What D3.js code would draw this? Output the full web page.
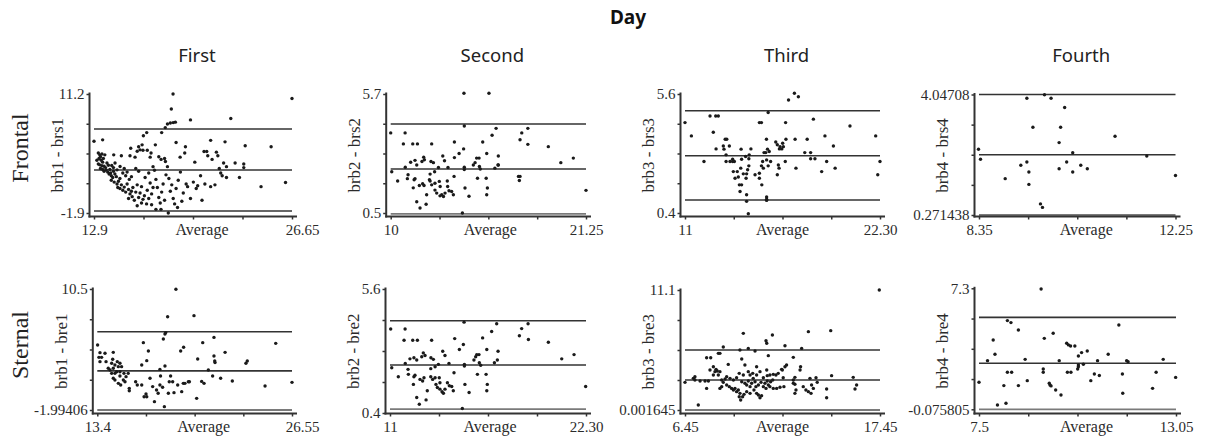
<!DOCTYPE html>
<html>
<head>
<meta charset="utf-8">
<script src="https://cdn.jsdelivr.net/npm/d3@7"></script>
<style>
  body { margin: 0; background: #fff; }
  svg { display: block; }
</style>
</head>
<body>
<svg id="chart" width="1206" height="436"></svg>
<script>
// Column / row names
const dayNames = ['First', 'Second', 'Third', 'Fourth'];
const siteNames = ['Frontal', 'Sternal'];

const frontalYTitles = ['brb1 - brs1', 'brb2 - brs2', 'brb3 - brs3', 'brb4 - brs4'];
const sternalYTitles = ['brb1 - bre1', 'brb2 - bre2', 'brb3 - bre3', 'brb4 - bre4'];

// Axis domains (Average on x, difference on y)
const frontalXDomains = [[12.9, 26.65], [10, 21.25], [11, 22.3], [8.35, 12.25]];
const sternalXDomains = [[13.4, 26.55], [11, 22.3], [6.45, 17.45], [7.5, 13.05]];
const frontalYDomains = [[-1.9, 11.2], [0.5, 5.7], [0.4, 5.6], [0.271438, 4.04708]];
const sternalYDomains = [[-1.99406, 10.5], [0.4, 5.6], [0.001645, 11.1], [-0.075805, 7.3]];

// End tick labels as printed
const frontalXTickLabels = [['12.9', '26.65'], ['10', '21.25'], ['11', '22.30'], ['8.35', '12.25']];
const sternalXTickLabels = [['13.4', '26.55'], ['11', '22.30'], ['6.45', '17.45'], ['7.5', '13.05']];
const frontalYTickLabels = [['-1.9', '11.2'], ['0.5', '5.7'], ['0.4', '5.6'], ['0.271438', '4.04708']];
const sternalYTickLabels = [['-1.99406', '10.5'], ['0.4', '5.6'], ['0.001645', '11.1'], ['-0.075805', '7.3']];

// Limits of agreement: [lower, mean, upper]
const frontalLimits = [[-1.68, 2.83, 7.35], [0.46, 2.42, 4.39], [0.97, 2.90, 4.87], [0.271438, 2.15926, 4.04708]];
const sternalLimits = [[-1.99406, 2.05, 6.09], [0.56, 2.41, 4.27], [0.001645, 2.78, 5.55], [-0.075805, 2.73, 5.53]];

// Points: [average, difference]
const frontalFirst = [
  [12.9,6.0],[13.5,6.15],[13.2,4.7],[13.3,4.5],[13.35,4.3],[13.25,4.1],[13.4,3.9],[13.5,3.7],[13.2,3.5],[13.3,3.4],
  [13.45,3.3],[13.6,3.25],[13.7,3.1],[13.8,3.6],[13.9,3.35],[13.1,3.9],[13.55,4.1],[13.65,4.5],[13.45,4.6],[13.35,3.0],
  [13.5,2.9],[13.6,2.7],[13.75,2.85],[13.85,2.6],[13.95,2.4],[14.05,2.5],[14.1,2.2],[14.2,2.0],[14.0,2.9],[14.25,2.7],
  [14.35,2.4],[14.45,2.1],[14.1,1.7],[14.3,1.5],[14.5,1.3],[14.6,1.6],[14.7,1.9],[14.8,1.2],[14.55,0.9],[14.7,0.8],
  [14.9,0.6],[15.0,0.95],[15.1,0.4],[15.3,0.7],[15.4,0.2],[15.55,-0.1],[15.5,0.5],[15.7,-0.5],[14.27,4.5],[14.8,4.4],
  [14.36,3.6],[14.13,3.33],[14.25,3.1],[14.71,3.22],[14.5,2.85],[14.9,2.5],[15.0,3.0],[15.2,2.6],[15.1,2.2],[15.35,1.8],
  [15.5,2.1],[15.45,5.23],[15.4,4.4],[15.75,4.25],[15.9,4.9],[16.0,5.4],[16.1,5.05],[16.24,5.6],[16.3,5.0],[16.33,6.6],
  [16.56,6.95],[16.6,5.0],[16.86,4.7],[16.8,4.25],[17.16,5.6],[15.8,3.0],[16.0,2.7],[15.9,1.2],[16.2,1.0],[16.1,0.3],
  [16.4,0.0],[16.3,-0.4],[16.55,-0.9],[16.6,0.6],[16.8,1.4],[16.9,0.2],[16.7,2.5],[16.45,2.0],[17.0,3.2],[17.1,2.8],
  [17.2,1.8],[17.3,0.9],[17.4,-0.2],[17.2,-1.5],[17.55,-1.5],[17.6,0.4],[17.7,1.3],[17.4,4.3],[17.56,4.0],[17.8,4.1],
  [17.86,3.77],[18.0,3.2],[17.6,6.95],[17.85,7.5],[18.0,7.9],[18.2,8.0],[18.4,8.05],[18.55,8.1],[18.27,9.55],[18.39,11.2],
  [18.6,5.86],[19.25,5.4],[19.2,4.7],[18.88,4.25],[17.9,2.3],[18.1,1.9],[18.3,1.2],[18.2,0.5],[18.4,-0.3],[18.5,-0.9],
  [18.6,0.8],[18.75,1.7],[18.9,2.6],[18.06,-1.9],[18.7,-1.3],[19.0,-0.6],[19.1,0.3],[19.3,1.3],[19.4,1.0],[19.6,-0.3],
  [19.9,3.7],[19.8,1.5],[20.0,0.8],[20.1,1.1],[20.3,2.2],[20.54,4.87],[20.73,4.87],[20.8,4.4],[20.4,-0.5],[20.6,1.3],
  [21.0,6.1],[21.1,4.0],[21.4,4.8],[21.5,4.4],[21.3,1.2],[21.0,1.0],[21.7,2.5],[21.8,2.2],[21.6,3.0],[22.0,5.93],
  [22.1,3.2],[22.4,8.5],[22.1,2.0],[23.0,2.0],[23.3,3.5],[23.3,3.1],[23.4,5.5],[22.7,3.6],[21.9,3.6],[24.5,1.0],
  [25.2,5.4],[26.2,1.45],[26.65,10.7],[19.6,8.35],[15.2,1.3],[15.6,0.9],[15.8,0.4],[16.0,-0.2],[16.2,-0.8],[16.7,-0.3],
  [16.9,-1.0],[17.0,0.9],[17.5,-0.8],[17.8,-0.5],[15.3,-0.3],[15.9,-1.1]
];

const frontalSecond = [
  [14.22,5.73],[15.66,5.73],[10.0,4.0],[10.83,4.0],[14.24,4.3],[16.07,4.2],[15.84,3.9],[17.55,4.0],[17.9,4.2],[17.45,3.7],
  [17.9,3.5],[19.08,3.4],[10.73,3.52],[11.27,3.52],[11.54,3.52],[12.36,3.52],[13.67,3.6],[15.3,3.6],[14.2,3.3],[13.94,3.1],
  [15.53,3.1],[16.2,2.99],[16.18,2.6],[10.06,2.3],[10.4,1.9],[10.84,2.5],[11.0,2.17],[10.96,2.0],[11.15,2.72],[11.4,2.8],
  [11.5,2.6],[11.4,2.0],[11.35,1.95],[11.3,1.6],[11.8,2.75],[11.9,2.94],[11.94,2.83],[12.32,2.75],[12.46,2.7],[12.27,2.2],
  [12.27,1.9],[12.36,1.73],[12.55,1.8],[12.53,2.3],[12.75,2.49],[12.8,1.88],[12.85,1.66],[13.0,2.99],[13.1,2.78],[13.3,2.49],
  [11.84,1.78],[11.92,1.7],[12.07,1.3],[11.65,1.7],[11.5,0.99],[11.69,0.72],[12.04,0.88],[12.23,1.95],[12.55,1.5],[12.65,1.37],
  [12.94,1.3],[13.04,1.22],[13.13,1.37],[12.84,1.25],[13.28,1.66],[13.36,1.47],[13.51,1.44],[13.61,1.3],[13.26,1.9],[13.65,2.1],
  [13.67,2.92],[14.24,2.5],[14.24,2.4],[14.28,1.59],[14.51,1.23],[14.13,0.5],[14.76,2.6],[14.86,2.7],[14.95,2.9],[15.09,2.9],
  [15.11,2.53],[15.16,2.42],[15.0,2.02],[15.5,2.02],[15.57,1.59],[15.53,1.3],[16.0,2.46],[16.2,2.6],[17.36,2.1],[17.45,2.1],
  [17.41,1.92],[19.8,2.7],[20.52,2.9],[21.25,1.49]
];

const frontalThird = [
  [11.0,4.35],[11.37,3.77],[12.45,4.64],[12.78,4.64],[12.93,4.64],[12.64,3.93],[12.8,3.2],[12.1,2.65],[13.33,3.62],[13.42,3.62],
  [13.22,3.33],[13.26,3.19],[13.57,3.33],[13.38,2.94],[13.38,2.65],[13.61,2.65],[13.76,2.65],[13.86,2.65],[13.76,2.75],[13.8,2.21],
  [13.9,1.92],[14.03,2.21],[14.09,1.97],[14.15,1.63],[14.28,1.63],[14.19,1.34],[14.23,2.36],[14.28,2.75],[14.25,3.19],[14.38,2.11],
  [14.54,1.92],[14.57,1.2],[14.57,0.91],[14.67,0.37],[14.51,2.87],[14.72,2.94],[14.82,3.2],[14.7,2.77],[14.7,2.46],[14.63,2.29],
  [14.57,2.11],[15.06,2.07],[15.31,1.92],[15.45,1.63],[15.31,2.14],[15.43,2.46],[15.5,2.65],[15.54,2.36],[15.31,4.35],[15.43,4.35],
  [15.58,3.04],[15.68,3.04],[15.72,3.62],[15.82,4.79],[15.73,1.1],[15.73,1.0],[15.73,0.95],[15.78,3.19],[15.88,3.09],[15.96,2.65],
  [15.82,2.46],[15.73,2.72],[16.26,3.5],[16.35,3.38],[16.47,3.2],[16.61,3.2],[16.7,3.3],[16.66,3.45],[16.85,3.62],[16.51,3.3],
  [16.41,2.5],[16.45,2.36],[16.35,2.07],[16.83,4.35],[16.81,2.65],[17.0,5.34],[17.34,5.63],[17.57,5.48],[17.38,3.62],[17.43,2.36],
  [17.94,3.04],[18.08,3.62],[18.28,3.04],[18.28,2.77],[18.53,2.77],[18.44,4.5],[18.92,2.21],[19.11,3.77],[19.21,2.65],[19.6,3.33],
  [19.7,2.36],[20.56,4.2],[22.05,3.77],[22.17,2.07],[22.3,2.65]
];

const frontalFourth = [
  [8.34,2.33],[8.38,2.02],[8.87,1.41],[9.18,1.83],[9.3,1.93],[9.34,1.62],[9.34,1.23],[9.3,3.93],[9.42,3.02],[9.57,0.62],
  [9.61,0.51],[9.65,4.04],[9.78,3.93],[10.05,3.64],[9.97,3.02],[9.94,2.54],[9.94,1.72],[10.09,1.93],[10.21,2.22],[10.21,1.62],
  [10.37,1.83],[10.5,1.72],[11.05,2.74],[11.68,2.12],[12.25,1.51]
];

const sternalFirst = [
  [18.71,10.47],[18.15,7.64],[19.93,7.75],[18.02,6.0],[17.97,5.85],[17.86,5.34],[13.42,4.72],[16.51,4.96],[16.85,4.1],[16.74,3.1],
  [13.58,3.93],[13.51,3.44],[13.69,3.44],[13.58,3.0],[13.92,3.86],[13.99,3.0],[14.48,3.96],[14.44,3.24],[14.37,2.83],[14.59,2.65],
  [14.75,3.0],[14.93,2.83],[15.04,2.48],[14.82,2.48],[14.14,2.31],[14.26,2.14],[14.48,2.31],[14.59,1.79],[14.37,1.79],[14.71,1.96],
  [14.93,1.96],[14.48,1.28],[14.59,1.1],[14.82,0.76],[14.98,0.59],[15.16,1.1],[15.27,0.93],[14.93,1.52],[15.2,1.79],[15.34,1.45],
  [15.49,1.79],[15.56,0.24],[15.56,0.0],[15.99,0.93],[16.1,0.59],[16.4,0.59],[16.4,2.65],[16.56,-0.62],[16.74,-0.62],[16.69,-0.34],
  [16.96,1.28],[17.14,0.42],[17.26,-1.13],[17.4,0.07],[17.51,-0.27],[17.63,0.59],[17.63,2.2],[17.67,1.52],[17.81,0.35],[17.97,2.55],
  [17.93,-1.65],[18.2,-0.27],[18.26,0.93],[18.35,1.52],[18.49,0.93],[18.58,-0.2],[18.83,0.59],[19.1,-0.1],[19.21,0.76],[19.32,0.76],
  [19.55,0.93],[19.62,0.93],[19.03,4.1],[19.23,4.48],[20.11,-0.79],[20.18,3.27],[20.45,0.96],[20.61,0.76],[20.52,4.96],[20.9,2.14],
  [21.19,1.52],[21.28,5.5],[21.28,3.58],[21.33,3.06],[21.35,2.9],[21.73,1.28],[22.03,3.96],[22.52,1.0],[23.44,2.83],[23.53,3.06],
  [24.73,0.48],[25.45,4.89],[26.55,0.86]
];

const sternalSecond = [
  [11.04,3.92],[11.87,3.92],[11.1,2.3],[11.48,1.92],[11.81,3.45],[12.31,3.45],[12.58,3.45],[13.4,3.45],[11.88,2.48],[12.04,2.23],
  [12.06,2.02],[12.15,2.67],[12.38,2.72],[12.54,2.62],[12.44,1.98],[12.38,1.92],[12.35,1.6],[12.83,2.76],[12.92,2.92],[13.02,2.81],
  [12.54,1.05],[12.69,0.77],[13.08,0.95],[13.36,2.72],[13.5,2.65],[13.35,2.26],[13.35,1.92],[13.46,1.81],[13.6,1.88],[13.6,2.34],
  [12.88,1.74],[12.96,1.88],[12.73,1.81],[13.15,1.33],[13.79,2.44],[13.84,1.88],[13.88,1.67],[14.04,2.99],[14.17,2.81],[14.4,2.48],
  [13.65,1.6],[13.73,1.47],[14.0,1.29],[14.08,1.23],[14.17,1.4],[14.31,1.67],[14.42,1.54],[14.56,1.51],[14.65,1.33],[13.88,1.4],
  [14.69,2.09],[14.73,3.52],[15.0,3.06],[15.23,3.27],[15.27,4.21],[15.29,2.44],[15.29,2.37],[15.32,1.6],[15.56,1.26],[15.17,0.59],
  [15.84,2.62],[15.94,2.76],[16.0,2.85],[16.13,2.85],[16.15,2.51],[16.23,2.4],[16.04,2.02],[16.54,2.02],[16.61,1.6],[16.58,1.33],
  [16.34,3.55],[16.58,3.06],[16.86,3.82],[17.15,4.14],[17.23,2.99],[17.19,2.62],[17.02,2.51],[18.46,3.64],[18.59,3.94],[18.96,4.14],
  [18.98,3.48],[20.13,3.37],[20.9,2.67],[21.61,2.85],[22.28,1.51]
];

const sternalThird = [
  [9.74,7.09],[13.41,7.25],[14.67,7.34],[11.02,6.41],[11.06,6.17],[11.38,6.94],[12.09,5.95],[8.61,5.83],[9.55,5.55],[10.02,5.7],
  [10.4,5.46],[13.03,5.7],[7.67,4.84],[7.9,4.84],[8.33,5.24],[8.42,5.24],[9.65,4.72],[11.15,5.03],[12.56,4.87],[8.89,4.22],
  [9.83,4.16],[10.49,4.0],[11.06,3.7],[12.18,4.16],[12.09,4.0],[11.9,3.76],[11.94,3.7],[12.97,4.0],[12.94,3.7],[8.05,4.0],
  [8.2,3.76],[8.27,3.61],[7.86,3.7],[8.14,3.55],[8.05,3.24],[8.42,3.55],[8.33,3.24],[10.02,3.55],[10.12,3.24],[10.27,3.39],
  [9.51,3.39],[9.74,3.24],[10.49,3.24],[10.68,3.55],[10.87,2.99],[11.09,3.18],[11.24,3.24],[11.43,3.3],[11.58,3.24],[11.71,3.39],
  [8.8,3.08],[8.71,2.87],[8.99,2.93],[9.18,2.78],[9.36,2.99],[6.45,2.56],[6.92,2.93],[7.01,2.78],[7.3,2.68],[7.58,2.68],
  [7.77,2.68],[7.01,3.08],[7.67,2.0],[8.52,2.78],[8.61,2.56],[8.52,2.16],[8.8,2.31],[8.95,2.16],[9.08,2.0],[9.18,1.85],
  [9.27,2.0],[9.36,1.7],[9.46,1.85],[9.55,1.54],[9.51,1.23],[9.59,0.93],[9.7,1.23],[9.78,1.45],[9.65,2.62],[9.83,2.47],
  [9.93,2.31],[10.02,2.68],[10.12,2.16],[10.21,2.47],[10.3,2.93],[10.4,2.62],[10.45,2.16],[9.93,1.7],[10.12,1.54],[10.34,1.85],
  [10.49,1.54],[10.59,1.39],[10.68,1.14],[10.77,1.33],[10.59,2.31],[10.74,2.56],[10.87,2.16],[10.96,2.47],[11.09,2.68],[11.02,2.0],
  [11.15,2.31],[11.28,2.62],[11.4,2.78],[11.24,2.16],[11.43,2.0],[11.62,2.0],[11.81,2.1],[12.03,2.16],[11.99,2.99],[12.65,3.02],
  [12.56,2.78],[12.65,2.38],[12.56,2.47],[12.71,1.85],[12.65,1.54],[13.12,2.16],[13.27,1.85],[13.5,2.93],[13.84,2.99],[13.91,2.56],
  [13.59,2.31],[13.69,2.0],[13.56,1.54],[13.41,1.7],[14.44,1.94],[14.44,1.14],[14.72,3.18],[15.94,3.02],[16.13,2.31],[16.04,1.94],
  [7.2,0.46],[8.42,2.0],[17.41,11.1]
];

const sternalFourth = [
  [9.25,7.26],[8.3,5.33],[8.4,5.21],[8.61,4.76],[9.59,4.56],[9.34,4.25],[7.9,4.15],[9.97,3.95],[10.02,3.85],[10.08,3.78],
  [10.2,3.78],[11.44,5.06],[10.55,3.48],[10.39,3.38],[10.3,3.17],[11.14,3.28],[7.95,3.28],[7.74,2.89],[8.8,2.97],[9.76,2.89],
  [10.3,2.63],[10.3,2.52],[10.28,2.38],[10.44,2.67],[10.84,2.89],[11.66,2.89],[11.7,2.83],[12.69,2.97],[8.3,2.18],[8.42,2.18],
  [9.31,2.38],[9.31,2.18],[9.99,2.18],[10.09,2.18],[7.5,1.57],[8.86,1.67],[8.2,1.37],[8.61,1.37],[9.48,1.51],[9.5,1.41],
  [9.53,1.35],[9.66,1.1],[9.81,0.8],[10.65,1.67],[10.75,2.08],[10.89,1.98],[11.54,2.08],[11.55,0.9],[12.49,2.18],[12.39,1.2],
  [13.04,1.87],[8.02,0.19],[8.26,0.29]
];

// Pixel layout of the 2 x 4 grid
const LAYOUT = {
  xRanges: [
    [[94, 292], [390.7, 586], [685, 880], [979, 1175.5]],
    [[97.3, 292], [390, 586], [685, 880], [979, 1176]],
  ],
  yRanges: [
    [[213, 94], [213, 94], [213, 94], [215, 94.5]],
    [[410, 289], [413, 289], [410, 290], [409.3, 288.3]],
  ],
  xAxisY: [216.5, 413.5],
  faintLower: [[false, true, false, true], [true, true, true, true]],
  avgShift: [9, 2, 0, 9],
  maxLabelShift: [10, 0, 0, 0],
  rowLabelY: [148, 345],
  axisGap: 4.5,
};

const SERIF = '"Liberation Serif", "Times New Roman", serif';
const SANS = '"Noto Sans", "Open Sans", sans-serif';
const INK = '#2b2b2b';

const rows = [
  {
    titles: frontalYTitles, xDomains: frontalXDomains, yDomains: frontalYDomains,
    xLabels: frontalXTickLabels, yLabels: frontalYTickLabels, limits: frontalLimits,
    points: [frontalFirst, frontalSecond, frontalThird, frontalFourth],
  },
  {
    titles: sternalYTitles, xDomains: sternalXDomains, yDomains: sternalYDomains,
    xLabels: sternalXTickLabels, yLabels: sternalYTickLabels, limits: sternalLimits,
    points: [sternalFirst, sternalSecond, sternalThird, sternalFourth],
  },
];

const svg = d3.select('#chart');

// Title
svg.append('text')
  .attr('x', 628).attr('y', 24)
  .attr('text-anchor', 'middle')
  .attr('font-family', SANS).attr('font-weight', 'bold').attr('font-size', 19)
  .attr('fill', '#111')
  .text('Day');

// Column headers
dayNames.forEach((name, c) => {
  const [x0, x1] = LAYOUT.xRanges[0][c];
  svg.append('text')
    .attr('x', (x0 + x1) / 2 + 4).attr('y', 62)
    .attr('text-anchor', 'middle')
    .attr('font-family', SANS).attr('font-size', 18.5)
    .attr('fill', '#222')
    .text(name);
});

// Row labels
siteNames.forEach((name, r) => {
  svg.append('text')
    .attr('transform', `translate(20, ${LAYOUT.rowLabelY[r]}) rotate(-90)`)
    .attr('dy', '0.35em')
    .attr('text-anchor', 'middle')
    .attr('font-family', SERIF).attr('font-size', 24)
    .attr('fill', '#222')
    .text(name);
});

/**
 * Five evenly spaced tick values across a domain
 */
function fiveTicks(domain) {
  return d3.range(5).map(i => domain[0] + i * (domain[1] - domain[0]) / 4);
}

/**
 * Draw one Bland-Altman panel
 */
function drawPanel(r, c) {
  const row = rows[r];
  const x = d3.scaleLinear().domain(row.xDomains[c]).range(LAYOUT.xRanges[r][c]);
  const y = d3.scaleLinear().domain(row.yDomains[c]).range(LAYOUT.yRanges[r][c]);
  const axisX = x.range()[0] - LAYOUT.axisGap;
  const axisY = LAYOUT.xAxisY[r];
  const g = svg.append('g').attr('class', 'panel');

  // Limits of agreement and mean
  row.limits[c].forEach((v, i) => {
    const faint = i === 0 && LAYOUT.faintLower[r][c];
    g.append('line')
      .attr('x1', x.range()[0]).attr('x2', x.range()[1])
      .attr('y1', y(v)).attr('y2', y(v))
      .attr('stroke', faint ? '#7a7a7a' : '#333')
      .attr('stroke-width', faint ? 1.8 : 1.6);
  });

  // Points
  g.selectAll('circle')
    .data(row.points[c])
    .enter()
    .append('circle')
    .attr('cx', d => x(d[0]))
    .attr('cy', d => y(d[1]))
    .attr('r', 1.7)
    .attr('fill', '#1a1a1a');

  // Y axis
  const yTickVals = fiveTicks(row.yDomains[c]);
  const yAxis = g.append('g')
    .attr('transform', `translate(${axisX},0)`)
    .call(d3.axisLeft(y)
      .tickValues(yTickVals)
      .tickSize(3)
      .tickSizeOuter(0)
      .tickPadding(2)
      .tickFormat((d, i) => i === 0 ? row.yLabels[c][0] : i === 4 ? row.yLabels[c][1] : ''));
  yAxis.select('.domain').remove();

  // X axis
  const xTickVals = fiveTicks(row.xDomains[c]);
  const xAxis = g.append('g')
    .attr('transform', `translate(0,${axisY})`)
    .call(d3.axisBottom(x)
      .tickValues(xTickVals)
      .tickSize(3)
      .tickSizeOuter(0)
      .tickPadding(5)
      .tickFormat((d, i) => i === 0 ? row.xLabels[c][0] : i === 4 ? row.xLabels[c][1] : ''));
  xAxis.select('.domain').remove();
  xAxis.selectAll('.tick').filter((d, i) => i === 4)
    .select('text').attr('dx', LAYOUT.maxLabelShift[c]);

  [yAxis, xAxis].forEach(a => {
    a.attr('font-family', SERIF).attr('font-size', 15);
    a.selectAll('.tick line').attr('stroke', '#333').attr('stroke-width', 1.5);
    a.selectAll('.tick text').attr('fill', INK);
  });

  // Axis lines
  g.append('line')
    .attr('x1', axisX).attr('x2', axisX)
    .attr('y1', y.range()[1] - 1.5).attr('y2', axisY + 1)
    .attr('stroke', '#333').attr('stroke-width', 2);
  g.append('line')
    .attr('x1', axisX - 1).attr('x2', x.range()[1] + 5)
    .attr('y1', axisY).attr('y2', axisY)
    .attr('stroke', '#333').attr('stroke-width', 2);

  // Axis titles
  g.append('text')
    .attr('x', (x.range()[0] + x.range()[1]) / 2 + LAYOUT.avgShift[c])
    .attr('y', axisY + 18.5)
    .attr('text-anchor', 'middle')
    .attr('font-family', SERIF).attr('font-size', 16)
    .attr('fill', INK)
    .text('Average');

  g.append('text')
    .attr('transform', `translate(${axisX - 32}, ${(y.range()[1] + axisY) / 2}) rotate(-90)`)
    .attr('dy', '0.35em')
    .attr('text-anchor', 'middle')
    .attr('font-family', SERIF).attr('font-size', 17)
    .attr('fill', INK)
    .text(row.titles[c]);
}

rows.forEach((row, r) => dayNames.forEach((d, c) => drawPanel(r, c)));
</script>
</body>
</html>
